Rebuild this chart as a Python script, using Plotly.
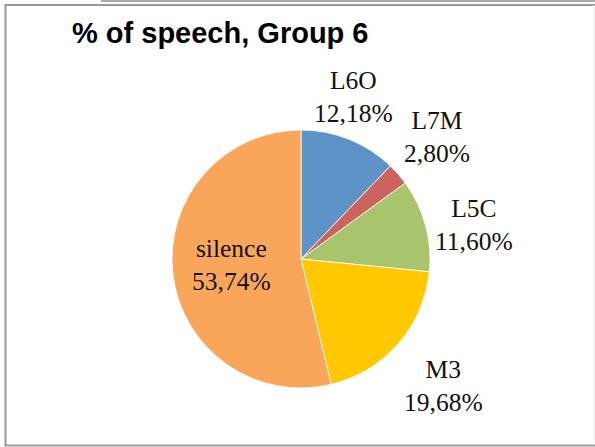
import plotly.graph_objects as go

categories = ["L6O", "L7M", "L5C", "M3", "silence"]
values = [12.18, 2.80, 11.60, 19.68, 53.74]
colors = ["#5E93C8", "#CD635F", "#A8C46C", "#FFC800", "#F9A65A"]
title_text = "% of speech, Group 6"

W, H = 595, 447

def px(x):
    return x / W

def py(y):
    return 1 - y / H

# label block centres (window pixels)
label_pos = [(353, 97), (437, 137), (474, 225), (443, 386), (231, 265)]

fig = go.Figure(go.Pie(
    labels=categories,
    values=values,
    sort=False,
    direction="clockwise",
    rotation=0,
    marker=dict(colors=colors, line=dict(color="white", width=0.8)),
    textinfo="none",
    hoverinfo="label+percent",
    showlegend=False,
    domain=dict(x=[px(172), px(430)], y=[py(388), py(130)]),
))

annotations = []
for cat, val, (x, y) in zip(categories, values, label_pos):
    txt = f"{cat}<br>{val:.2f}".replace(".", ",") + "%"
    annotations.append(dict(
        x=px(x), y=py(y), xref="paper", yref="paper",
        text=txt, showarrow=False, xanchor="center", yanchor="middle",
        align="center",
        font=dict(family="Liberation Serif, Times New Roman, serif", size=25.5, color="#111111"),
    ))

annotations.append(dict(
    x=px(220), y=py(33), xref="paper", yref="paper",
    text="<b>" + title_text + "</b>", showarrow=False,
    xanchor="center", yanchor="middle",
    font=dict(family="Liberation Sans, Arial, sans-serif", size=29, color="#000000"),
))

shapes = [
    dict(type="line", xref="paper", yref="paper", x0=px(5.5), x1=px(5.5), y0=py(4.5), y1=py(446), line=dict(color="#999999", width=2)),
    dict(type="line", xref="paper", yref="paper", x0=px(4.5), x1=1, y0=py(5), y1=py(5), line=dict(color="#999999", width=2)),
    dict(type="line", xref="paper", yref="paper", x0=px(4.5), x1=1, y0=py(445.5), y1=py(445.5), line=dict(color="#999999", width=2)),
    dict(type="line", xref="paper", yref="paper", x0=px(594), x1=px(594), y0=py(5), y1=py(445), line=dict(color="#e6e6e6", width=1)),
    dict(type="line", xref="paper", yref="paper", x0=px(101), x1=1, y0=py(1), y1=py(1), line=dict(color="#aaaaaa", width=2)),
]

fig.update_layout(
    width=W, height=H,
    margin=dict(l=0, r=0, t=0, b=0),
    paper_bgcolor="white",
    plot_bgcolor="white",
    annotations=annotations,
    shapes=shapes,
)

fig.write_html("out.html", config={"displayModeBar": False},
               post_script="document.body.style.margin='0';")
